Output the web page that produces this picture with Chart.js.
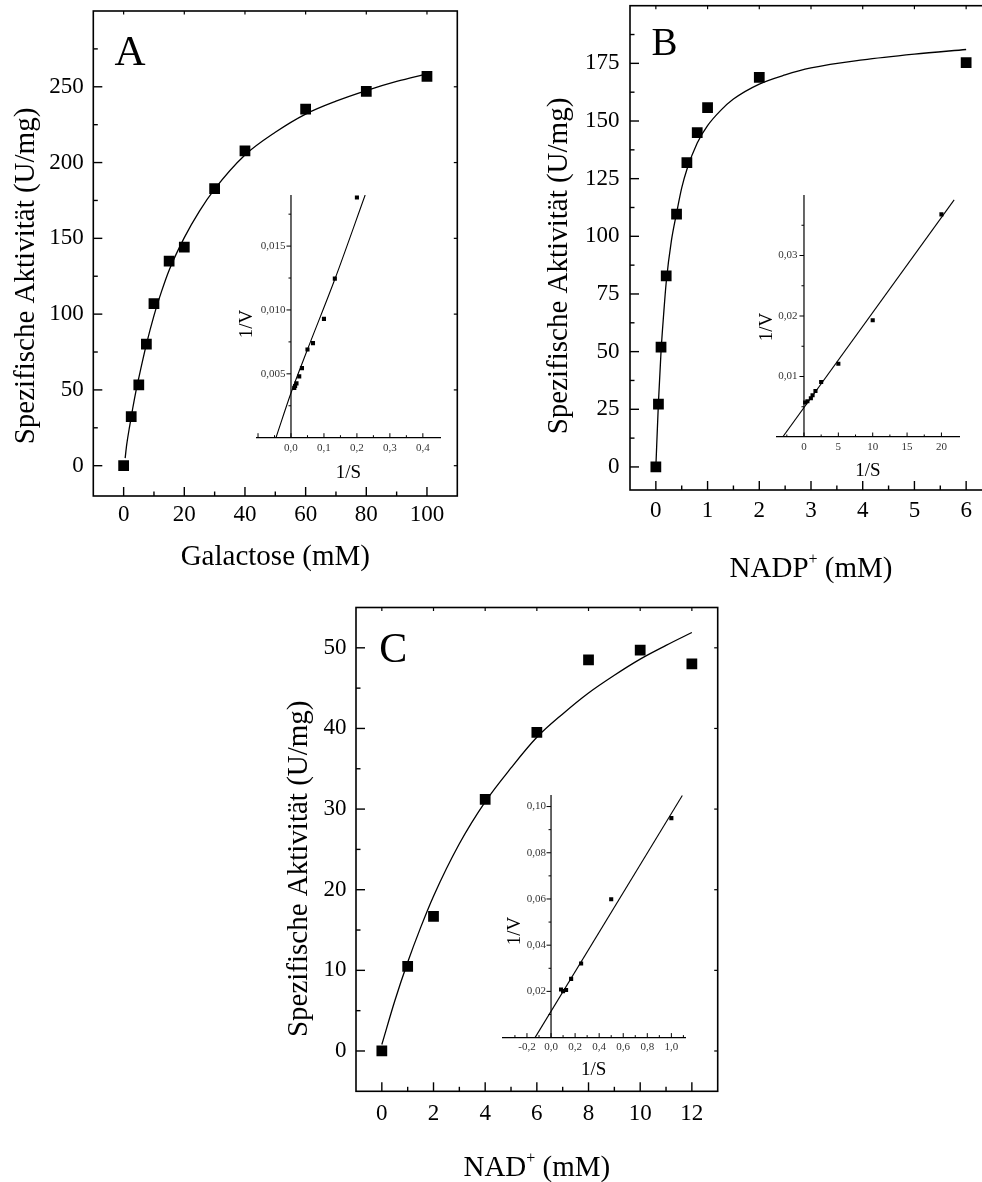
<!DOCTYPE html>
<html>
<head>
<meta charset="utf-8">
<script src="https://cdn.jsdelivr.net/npm/chart.js@4.4.1/dist/chart.umd.min.js"></script>
<style>
  html, body { margin: 0; padding: 0; background: #fff; overflow: hidden; }
  #page { position: relative; width: 982px; height: 1182px; overflow: hidden; }
  canvas { position: absolute; }
</style>
</head>
<body>
<div id="page">
  <canvas id="mainA" width="480" height="580" style="left:0px;top:0px"></canvas>
  <canvas id="mainB" width="470" height="590" style="left:530px;top:0px"></canvas>
  <canvas id="mainC" width="480" height="602" style="left:260px;top:580px"></canvas>
  <canvas id="insetA" width="260" height="330" style="left:200px;top:170px"></canvas>
  <canvas id="insetB" width="262" height="330" style="left:720px;top:170px"></canvas>
  <canvas id="insetC" width="262" height="330" style="left:445px;top:770px"></canvas>
</div>
<script>
// --- panel A: galactose ---
const galactoseMM = [0, 2.5, 5, 7.5, 10, 15, 20, 30, 40, 60, 80, 100];
const activityA = [0, 32.3, 53.3, 80.2, 107, 135, 144.2, 182.8, 207.7, 235.3, 247, 256.8];
const fitA_S = [0.5, 1, 2, 3, 4, 5, 7.5, 10, 12.5, 15, 20, 25, 30, 40, 50, 60, 70, 80, 90, 100];
const fitA_V = [5, 13.7, 26.3, 37.9, 48.6, 58, 80, 99, 115, 129, 150.5, 168, 182.5, 205, 220, 232, 240.5, 247.5, 253.5, 258.5];
const ticksA_x = [0, 20, 40, 60, 80, 100];
const ticksA_y = [0, 50, 100, 150, 200, 250];

const insetA_invS = [0.01, 0.0125, 0.0167, 0.025, 0.0333, 0.05, 0.0667, 0.1, 0.133, 0.2];
const insetA_invV = [0.0039, 0.00405, 0.00425, 0.0048, 0.00545, 0.0069, 0.0074, 0.0093, 0.01245, 0.0188];
const lineA_invS = [-0.0456, 0, 0.05, 0.133, 0.225];
const lineA_invV = [0, 0.0035, 0.0069, 0.0124, 0.019];
const insetA_xTicks = [0, 0.1, 0.2, 0.3, 0.4];
const insetA_xLabels = ['0,0', '0,1', '0,2', '0,3', '0,4'];
const insetA_yTicks = [0.005, 0.010, 0.015];
const insetA_yLabels = ['0,005', '0,010', '0,015'];

// --- panel B: NADP+ ---
const nadpMM = [0, 0.05, 0.1, 0.2, 0.4, 0.6, 0.8, 1, 2, 6];
const activityB = [0, 27.2, 51.9, 82.9, 109.6, 132, 145, 155.8, 168.9, 175.3];
const fitB_S = [0, 0.05, 0.1, 0.15, 0.2, 0.3, 0.4, 0.5, 0.6, 0.8, 1, 1.25, 1.5, 2, 2.5, 3, 4, 5, 6];
const fitB_V = [0, 28, 50, 66, 80, 98, 110, 121, 129, 140.5, 148, 154.5, 159.5, 166, 170, 173, 176.5, 179, 181];
const ticksB_x = [0, 1, 2, 3, 4, 5, 6];
const ticksB_y = [0, 25, 50, 75, 100, 125, 150, 175];

const insetB_invS = [0.167, 0.5, 1, 1.25, 1.67, 2.5, 5, 10, 20];
const insetB_invV = [0.0057, 0.0059, 0.0064, 0.0069, 0.0076, 0.0091, 0.0121, 0.0193, 0.0368];
const lineB_invS = [-3.1, 21.85];
const lineB_invV = [0, 0.0392];
const insetB_xTicks = [0, 5, 10, 15, 20];
const insetB_xLabels = ['0', '5', '10', '15', '20'];
const insetB_yTicks = [0.01, 0.02, 0.03];
const insetB_yLabels = ['0,01', '0,02', '0,03'];

// --- panel C: NAD+ ---
const nadMM = [0, 1, 2, 4, 6, 8, 10, 12];
const activityC = [0, 10.5, 16.7, 31.2, 39.5, 48.5, 49.7, 48.0];
const fitC_S = [0, 0.5, 1, 1.5, 2, 3, 4, 5, 6, 7, 8, 9, 10, 11, 12];
const fitC_V = [0.8, 6.2, 11, 15.3, 19.2, 25.7, 30.9, 35.1, 38.9, 41.8, 44.4, 46.6, 48.6, 50.3, 51.9];
const ticksC_x = [0, 2, 4, 6, 8, 10, 12];
const ticksC_y = [0, 10, 20, 30, 40, 50];

const insetC_invS = [0.0833, 0.1, 0.125, 0.167, 0.25, 0.5, 1.0];
const insetC_invV = [0.0208, 0.0201, 0.0206, 0.0254, 0.0321, 0.0599, 0.095];
const lineC_invS = [-0.133, 1.091];
const lineC_invV = [0, 0.1048];
const insetC_xTicks = [-0.2, 0, 0.2, 0.4, 0.6, 0.8, 1.0];
const insetC_xLabels = ['-0,2', '0,0', '0,2', '0,4', '0,6', '0,8', '1,0'];
const insetC_yTicks = [0.02, 0.04, 0.06, 0.08, 0.10];
const insetC_yLabels = ['0,02', '0,04', '0,06', '0,08', '0,10'];

const yTitle = 'Spezifische Aktivität (U/mg)';
const serif = "'Liberation Serif', 'Times New Roman', Times, serif";

Chart.defaults.font.family = serif;
Chart.defaults.color = '#000';

const pts = (xs, ys) => xs.map((x, i) => ({ x: x, y: ys[i] }));

// frame, axis line at x=0 and inward/outward tick marks (major + minor)
const axisMarks = {
  id: 'axisMarks',
  afterDraw(chart, args, opts) {
    const { ctx, chartArea: a, scales } = chart;
    ctx.save();
    ctx.strokeStyle = '#000';
    if (opts.frame) {
      ctx.lineWidth = opts.frame;
      ctx.strokeRect(a.left, a.top, a.right - a.left, a.bottom - a.top);
    }
    if (opts.yLine) {
      const x0 = scales.x.getPixelForValue(0);
      ctx.lineWidth = opts.yLine;
      ctx.beginPath();
      ctx.moveTo(x0, a.top);
      ctx.lineTo(x0, a.bottom);
      ctx.stroke();
    }
    (opts.marks || []).forEach(m => {
      const sc = scales[m.axis];
      const horiz = sc.isHorizontal();
      let base;
      if (m.side === 'bottom') base = a.bottom;
      else if (m.side === 'top') base = a.top;
      else if (m.side === 'left') base = a.left;
      else if (m.side === 'right') base = a.right;
      else base = scales.x.getPixelForValue(0);
      ctx.lineWidth = m.width;
      const n0 = Math.ceil(sc.min / m.minor - 1e-6);
      const n1 = Math.floor(sc.max / m.minor + 1e-6);
      for (let n = n0; n <= n1; n++) {
        const v = n * m.minor;
        const isMajor = Math.abs(v / m.major - Math.round(v / m.major)) < 1e-6;
        const len = isMajor ? m.len[0] : m.len[1];
        if (!len) continue;
        const p = sc.getPixelForValue(v);
        if (horiz ? (p < a.left + 1 || p > a.right - 1) : (p < a.top + 1 || p > a.bottom - 1)) continue;
        ctx.beginPath();
        if (horiz) { ctx.moveTo(p, base); ctx.lineTo(p, base + m.dir * len); }
        else { ctx.moveTo(base, p); ctx.lineTo(base + m.dir * len, p); }
        ctx.stroke();
      }
    });
    ctx.restore();
  }
};

// titles, panel letters, superscripts
const textMarks = {
  id: 'textMarks',
  afterDraw(chart, args, opts) {
    const { ctx, chartArea: a } = chart;
    (opts.items || []).forEach(it => {
      const parts = it.parts || [{ t: it.text }];
      const fontOf = p => (p.size || it.size) + 'px ' + serif;
      ctx.save();
      ctx.translate(it.x === 'mid' ? (a.left + a.right) / 2 : it.x, it.y);
      if (it.rot) ctx.rotate(it.rot * Math.PI / 180);
      ctx.fillStyle = it.color || '#000';
      ctx.textBaseline = 'alphabetic';
      ctx.textAlign = 'left';
      let total = 0;
      parts.forEach(p => { ctx.font = fontOf(p); total += ctx.measureText(p.t).width; });
      let cx = -total / 2;
      parts.forEach(p => {
        ctx.font = fontOf(p);
        ctx.fillText(p.t, cx, p.dy || 0);
        cx += ctx.measureText(p.t).width;
      });
      ctx.restore();
    });
  }
};

function makeMain(id, o) {
  return new Chart(document.getElementById(id), {
    type: 'scatter',
    data: {
      datasets: [
        { data: pts(o.fitX, o.fitY), showLine: true, borderColor: '#000', borderWidth: 1.3,
          pointRadius: 0, cubicInterpolationMode: 'monotone', fill: false },
        { data: pts(o.dataX, o.dataY), pointStyle: 'rect', pointRadius: 7.6,
          pointBackgroundColor: '#000', pointBorderWidth: 0 }
      ]
    },
    options: {
      responsive: false,
      animation: false,
      layout: { padding: o.pad, autoPadding: false },
      scales: {
        x: {
          type: 'linear', min: o.xr[0], max: o.xr[1],
          grid: { display: false, drawTicks: false }, border: { display: false },
          ticks: { font: { size: 23 }, padding: o.xPad, autoSkip: false, maxRotation: 0, minRotation: 0,
                   callback: (v, i) => String(o.xTicks[i]) },
          afterBuildTicks: s => { s.ticks = o.xTicks.map(v => ({ value: v })); },
          afterFit: s => { s.height = o.xh; s.paddingLeft = 0; s.paddingRight = 0; }
        },
        y: {
          type: 'linear', min: o.yr[0], max: o.yr[1],
          grid: { display: false, drawTicks: false }, border: { display: false },
          ticks: { font: { size: 23 }, padding: o.yPad, autoSkip: false,
                   callback: (v, i) => String(o.yTicks[i]) },
          afterBuildTicks: s => { s.ticks = o.yTicks.map(v => ({ value: v })); },
          afterFit: s => { s.width = o.yw; s.paddingTop = 0; s.paddingBottom = 0; }
        }
      },
      plugins: {
        legend: { display: false },
        tooltip: { enabled: false },
        axisMarks: {
          frame: 1.6,
          marks: [
            { axis: 'x', side: 'bottom', dir: -1, major: o.xStep[0], minor: o.xStep[1], len: [9, 4.5], width: 1.4 },
            { axis: 'x', side: 'top', dir: 1, major: o.xStep[0], minor: o.xStep[1], len: [3.5, 0], width: 1.2 },
            { axis: 'y', side: 'left', dir: 1, major: o.yStep[0], minor: o.yStep[1], len: [9, 4.5], width: 1.4 },
            { axis: 'y', side: 'right', dir: -1, major: o.yStep[0], minor: o.yStep[1], len: [3.5, 0], width: 1.2 }
          ]
        },
        textMarks: { items: o.texts }
      }
    },
    plugins: [axisMarks, textMarks]
  });
}

function makeInset(id, o) {
  return new Chart(document.getElementById(id), {
    type: 'scatter',
    data: {
      datasets: [
        { data: pts(o.lineX, o.lineY), showLine: true, borderColor: '#000', borderWidth: 1.1,
          pointRadius: 0, cubicInterpolationMode: 'monotone', fill: false },
        { data: pts(o.dataX, o.dataY), pointStyle: 'rect', pointRadius: 2.9,
          pointBackgroundColor: '#000', pointBorderWidth: 0 }
      ]
    },
    options: {
      responsive: false,
      animation: false,
      layout: { padding: o.pad, autoPadding: false },
      scales: {
        x: {
          type: 'linear', min: o.xr[0], max: o.xr[1],
          grid: { display: false, drawTicks: false }, border: { display: true, color: '#000', width: 1.2 },
          ticks: { font: { size: 11 }, color: '#333', padding: 3.4, autoSkip: false, maxRotation: 0, minRotation: 0,
                   callback: (v, i) => o.xLabels[i] },
          afterBuildTicks: s => { s.ticks = o.xTicks.map(v => ({ value: v })); },
          afterFit: s => { s.height = o.xh; s.paddingLeft = 0; s.paddingRight = 0; }
        },
        y: {
          type: 'linear', min: o.yr[0], max: o.yr[1],
          grid: { display: false, drawTicks: false }, border: { display: false },
          ticks: { font: { size: 11 }, color: '#333', mirror: true, padding: o.yPad, autoSkip: false,
                   callback: (v, i) => o.yLabels[i] },
          afterBuildTicks: s => { s.ticks = o.yTicks.map(v => ({ value: v })); },
          afterFit: s => { s.width = 0; s.paddingTop = 0; s.paddingBottom = 0; }
        }
      },
      plugins: {
        legend: { display: false },
        tooltip: { enabled: false },
        axisMarks: {
          yLine: 1.2,
          marks: [
            { axis: 'x', side: 'bottom', dir: -1, major: o.xStep[0], minor: o.xStep[1], len: [4.5, 2.5], width: 1 },
            { axis: 'y', side: 'zero', dir: -1, major: o.yStep[0], minor: o.yStep[1], len: [4.5, 2.5], width: 1 }
          ]
        },
        textMarks: {
          items: [
            { text: '1/V', x: o.vPos[0], y: o.vPos[1], size: 19, rot: -90 },
            { text: '1/S', x: 'mid', y: o.sBase, size: 19 }
          ]
        }
      }
    },
    plugins: [axisMarks, textMarks]
  });
}

makeMain('mainA', {
  dataX: galactoseMM, dataY: activityA, fitX: fitA_S, fitY: fitA_V,
  xr: [-10, 110], yr: [-20, 300], xTicks: ticksA_x, yTicks: ticksA_y,
  xStep: [20, 10], yStep: [50, 25],
  pad: { left: 0, top: 11, right: 22.7, bottom: 0 }, xh: 84, yw: 93.3, xPad: 5.2, yPad: 9.5,
  texts: [
    { text: 'A', x: 130, y: 65, size: 43 },
    { text: yTitle, x: 33.6, y: 276, size: 29, rot: -90 },
    { text: 'Galactose (mM)', x: 'mid', y: 564.5, size: 29 }
  ]
});

makeMain('mainB', {
  dataX: nadpMM, dataY: activityB, fitX: fitB_S, fitY: fitB_V,
  xr: [-0.5, 6.5], yr: [-10, 200], xTicks: ticksB_x, yTicks: ticksB_y,
  xStep: [1, 0.5], yStep: [25, 12.5],
  pad: { left: 0, top: 5.7, right: 8, bottom: 0 }, xh: 100, yw: 100, xPad: 6.9, yPad: 10.5,
  texts: [
    { text: 'B', x: 134.5, y: 55, size: 39 },
    { text: yTitle, x: 36.9, y: 266, size: 29, rot: -90 },
    { parts: [{ t: 'NADP' }, { t: '+', size: 16, dy: -13 }, { t: ' (mM)' }], x: 'mid', y: 576.5, size: 29 }
  ]
});

makeMain('mainC', {
  dataX: nadMM, dataY: activityC, fitX: fitC_S, fitY: fitC_V,
  xr: [-1, 13], yr: [-5, 55], xTicks: ticksC_x, yTicks: ticksC_y,
  xStep: [2, 1], yStep: [10, 5],
  pad: { left: 0, top: 27.5, right: 22.3, bottom: 0 }, xh: 90.7, yw: 96, xPad: 8.4, yPad: 9.5,
  texts: [
    { text: 'C', x: 133.3, y: 81.5, size: 42 },
    { text: yTitle, x: 46.9, y: 288.8, size: 29, rot: -90 },
    { parts: [{ t: 'NAD' }, { t: '+', size: 16, dy: -13 }, { t: ' (mM)' }], x: 'mid', y: 595.5, size: 29 }
  ]
});

makeInset('insetA', {
  dataX: insetA_invS, dataY: insetA_invV, lineX: lineA_invS, lineY: lineA_invV,
  xr: [-0.104, 0.452], yr: [0, 0.019],
  xTicks: insetA_xTicks, xLabels: insetA_xLabels, yTicks: insetA_yTicks, yLabels: insetA_yLabels,
  xStep: [0.1, 0.05], yStep: [0.005, 0.0025],
  pad: { left: 56.7, top: 25, right: 20, bottom: 0 }, xh: 62.3, yPad: 4,
  vPos: [51.7, 154], sBase: 308
});

makeInset('insetB', {
  dataX: insetB_invS, dataY: insetB_invV, lineX: lineB_invS, lineY: lineB_invV,
  xr: [-3.97, 22.6], yr: [0, 0.04],
  xTicks: insetB_xTicks, xLabels: insetB_xLabels, yTicks: insetB_yTicks, yLabels: insetB_yLabels,
  xStep: [5, 2.5], yStep: [0.01, 0.005],
  pad: { left: 56.7, top: 25, right: 22.7, bottom: 0 }, xh: 63, yPad: 1.6,
  vPos: [51.7, 157], sBase: 306
});

makeInset('insetC', {
  dataX: insetC_invS, dataY: insetC_invV, lineX: lineC_invS, lineY: lineC_invV,
  xr: [-0.405, 1.115], yr: [0, 0.105],
  xTicks: insetC_xTicks, xLabels: insetC_xLabels, yTicks: insetC_yTicks, yLabels: insetC_yLabels,
  xStep: [0.2, 0.1], yStep: [0.02, 0.01],
  pad: { left: 57.3, top: 25, right: 21.8, bottom: 0 }, xh: 62.4, yPad: 24.4,
  vPos: [75, 161], sBase: 305
});
</script>
</body>
</html>
